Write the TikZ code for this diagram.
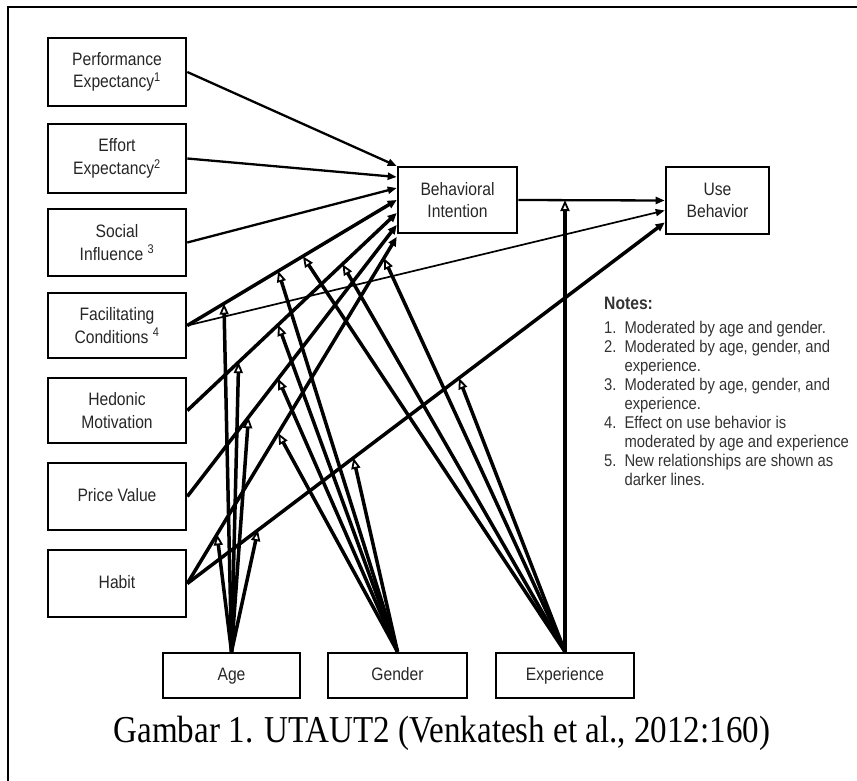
\documentclass[tikz,border=0pt]{standalone}
\usepackage{fontspec}
\setmainfont{Liberation Sans}[FakeStretch=0.87]
\newfontfamily\capfont{Liberation Serif}[FakeStretch=0.87]
\usetikzlibrary{arrows.meta,calc}
\begin{document}
\begin{tikzpicture}[x=1pt,y=-1pt,
  box/.style={draw, line width=2.6pt, minimum width=138pt, inner sep=0pt, align=center,
    font=\fontsize{18}{22.5}\selectfont, text=black!85},
  oneline/.style={text height=13pt, text depth=3.5pt},
  thinline/.style={line width=1.7pt, -{Triangle[length=9pt,width=7pt]}},
  midline/.style={line width=2.3pt, -{Triangle[length=9pt,width=7pt]}},
  thickline/.style={line width=3.5pt, -{Triangle[length=9pt,width=8pt]}},
  modline/.style={line width=3.5pt, -{Triangle[open,length=11pt,width=9pt,line width=1.8pt]}},
  notefont/.style={font=\fontsize{17}{19}\selectfont, text=black!80}
]
\useasboundingbox (0,0) rectangle (857,781);
\draw[line width=2pt] (8,781) -- (8,7) -- (857,7);

% predictor boxes
\node[box, minimum height=68pt] (pe) at (117,72) {Performance\\Expectancy\textsuperscript{1}};
\node[box, minimum height=69pt] (ee) at (117,158.5) {Effort\\Expectancy\textsuperscript{2}};
\node[box, minimum height=67pt] (si) at (117,242.5) {Social\\Influence \textsuperscript{3}};
\node[box, minimum height=65pt] (fc) at (117,325.5) {Facilitating\\Conditions \textsuperscript{4}};
\node[box, minimum height=65pt] (hm) at (117,410.5) {Hedonic\\Motivation};
\node[box, oneline, minimum height=67pt] (pv) at (117,496.5) {Price Value};
\node[box, oneline, minimum height=67pt] (hb) at (117,583.5) {Habit};
% outcome boxes
\node[box, minimum width=119pt, minimum height=66pt] (bi) at (457.5,200) {Behavioral\\Intention};
\node[box, minimum width=103pt, minimum height=67pt] (ub) at (717.5,200.5) {Use\\Behavior};
% moderators
\node[box, oneline, minimum width=137pt, minimum height=45pt] (age) at (231.5,675.5) {Age};
\node[box, oneline, minimum width=139pt, minimum height=45pt] (gen) at (397.5,675.5) {Gender};
\node[box, oneline, minimum width=138pt, minimum height=45pt] (exp) at (565,675.5) {Experience};

% end points on BI and UB
\coordinate (bi1) at ([yshift=34pt]bi.west);
\coordinate (bi2) at ([yshift=23pt]bi.west);
\coordinate (bi3) at ([yshift=12pt]bi.west);
\coordinate (bi4) at (bi.west);
\coordinate (bi5) at ([yshift=-13pt]bi.west);
\coordinate (bi6) at ([yshift=-25pt]bi.west);
\coordinate (bi7) at ([yshift=-37pt]bi.west);
\coordinate (ub2) at ([yshift=-10pt]ub.west);
\coordinate (ub3) at ([yshift=-22pt]ub.west);

% predictor paths
\draw[midline] (pe.east) -- (bi1);
\draw[midline] (ee.east) -- (bi2);
\draw[midline] (si.east) -- (bi3);
\draw[thickline] (fc.east) -- (bi4);
\draw[thinline] (fc.east) -- (ub2);
\draw[thickline] (hm.east) -- (bi5);
\draw[thickline] (pv.east) -- (bi6);
\draw[thickline] (hb.east) -- (bi7);
\draw[thickline] (hb.east) -- (ub3);
\draw[midline] (bi.east) -- (ub.west);

% moderation targets
\coordinate (fcA) at ($(fc.east)!0.175!(bi4)$);
\coordinate (fcG) at ($(fc.east)!0.434!(bi4)$);
\coordinate (fcE) at ($(fc.east)!0.552!(bi4)$);
\coordinate (hmA) at ($(hm.east)!0.245!(bi5)$);
\coordinate (hmG) at ($(hm.east)!0.434!(bi5)$);
\coordinate (hmE) at ($(hm.east)!0.741!(bi5)$);
\coordinate (pvA) at ($(pv.east)!0.292!(bi6)$);
\coordinate (pvG) at ($(pv.east)!0.434!(bi6)$);
\coordinate (hbA) at ($(hb.east)!0.142!(bi7)$);
\coordinate (hbG) at ($(hb.east)!0.434!(bi7)$);
\coordinate (hbE) at ($(hb.east)!0.939!(bi7)$);
\coordinate (huA) at ($(hb.east)!0.148!(ub3)$);
\coordinate (huG) at ($(hb.east)!0.348!(ub3)$);
\coordinate (huE) at ($(hb.east)!0.569!(ub3)$);
\coordinate (buE) at (exp.north |- bi.east);

% moderation arrows
\foreach \t in {fcA,hmA,pvA,hbA,huA} \draw[modline] (age.north) -- (\t);
\foreach \t in {fcG,hmG,pvG,hbG,huG} \draw[modline] (gen.north) -- (\t);
\foreach \t in {fcE,hmE,hbE,huE} \draw[modline] (exp.north) -- (\t);
\draw[modline] (exp.north) -- (buE);

% notes
\node[notefont, anchor=north west, inner sep=0pt] (notes) at (604,296) {%
\begin{tabular}{@{}l@{\hspace{8pt}}l@{}}
\multicolumn{2}{@{}l}{\fontsize{18}{19}\selectfont\textbf{Notes:}}\\[5pt]
1. & Moderated by age and gender.\\
2. & Moderated by age, gender, and\\
   & experience.\\
3. & Moderated by age, gender, and\\
   & experience.\\
4. & Effect on use behavior is\\
   & moderated by age and experience\\
5. & New relationships are shown as\\
   & darker lines.
\end{tabular}};

% caption
\node[font=\capfont\fontsize{38}{40}\selectfont, anchor=base, inner sep=0pt] (cap) at (442,742)
  {Gambar 1. UTAUT2 (Venkatesh et al., 2012:160)};
\end{tikzpicture}
\end{document}
